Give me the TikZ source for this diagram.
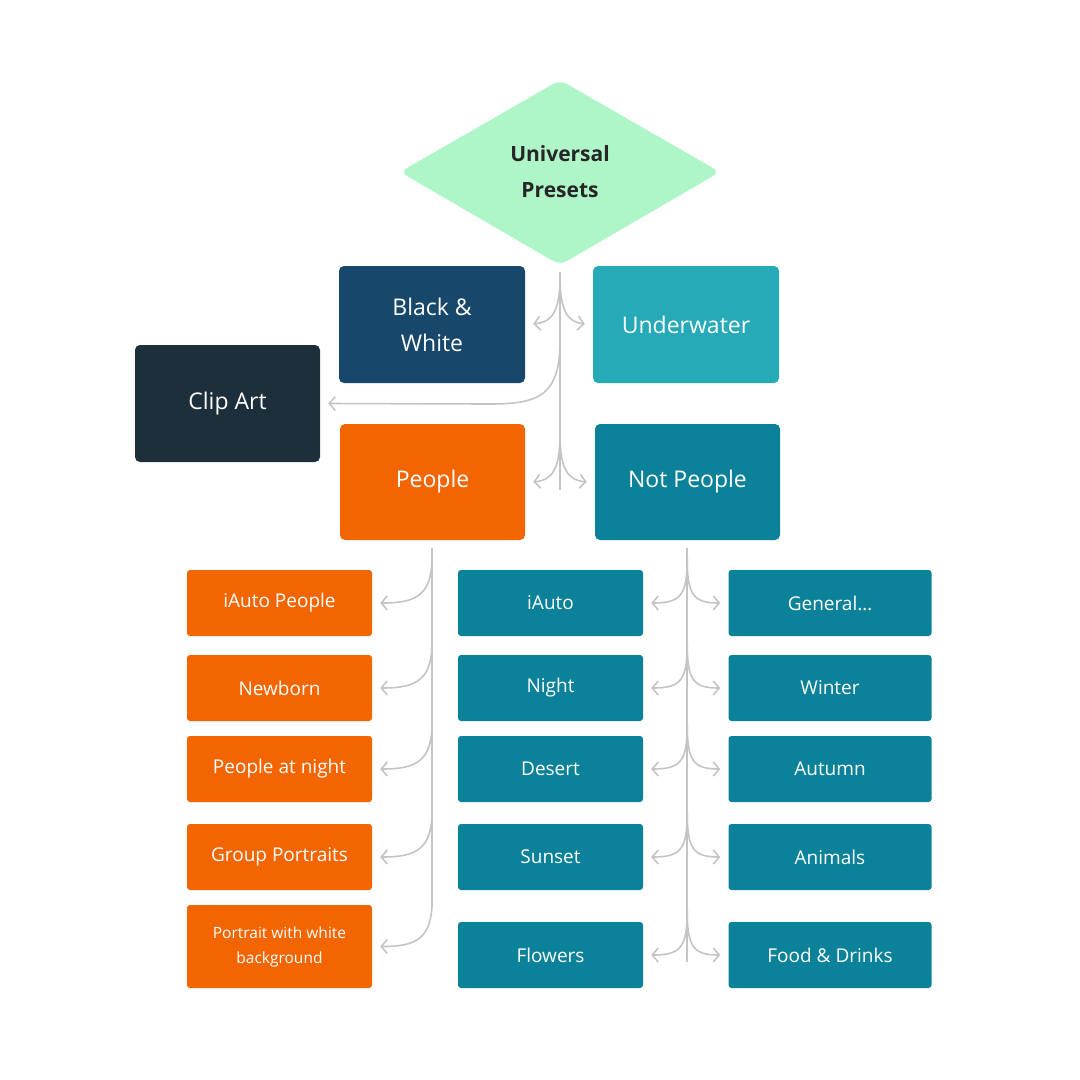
\documentclass[tikz,border=0pt]{standalone}
\usepackage{fontspec}
\setmainfont{Open Sans}
\usetikzlibrary{arrows.meta,shapes.geometric}
\definecolor{bw}{HTML}{17476A}
\definecolor{uw}{HTML}{27AAB8}
\definecolor{ca}{HTML}{1E2F3C}
\definecolor{pp}{HTML}{F26500}
\definecolor{np}{HTML}{0B8299}
\definecolor{dm}{HTML}{AEF5C8}
\definecolor{ln}{HTML}{C4C4C4}
\begin{document}
\begin{tikzpicture}[x=1pt,y=-1pt,
 box/.style={rounded corners=5pt,text=white,align=center,inner sep=0pt,font=\fontsize{23}{36}\selectfont},
 sm/.style={rounded corners=3pt,text=white,align=center,inner sep=0pt,minimum height=66pt,font=\fontsize{19}{21}\selectfont},
 conn/.style={draw=ln,line width=1.6pt,-{Straight Barb[length=6pt,width=14pt]}},
 trunk/.style={draw=ln,line width=1.6pt}]
\useasboundingbox (0,0) rectangle (1080,1080);
\fill[dm,rounded corners=8pt] (400,172)--(560,80)--(720,172)--(560,265)--cycle;
\node[font=\bfseries\fontsize{21}{36}\selectfont,text=black!85,align=center] (up) at (560,172) {Universal\\Presets};
\node[box,fill=bw,minimum width=186pt,minimum height=117pt] (bw) at (432,324.5) {Black \&\\White};
\node[box,fill=uw,minimum width=186pt,minimum height=117pt] (uw) at (686,324.5) {Underwater};
\node[box,fill=ca,minimum width=185pt,minimum height=117pt] (ca) at (227.5,403.5) {Clip Art};
\node[box,fill=pp,minimum width=185pt,minimum height=116pt] (pe) at (432.5,482) {People};
\node[box,fill=np,minimum width=185pt,minimum height=116pt] (np) at (687.5,482) {Not People};
\foreach \n/\y/\t in {p1/603/iAuto People,p2/688/Newborn,p3/769/People at night,p4/857/Group Portraits}
 \node[sm,fill=pp,minimum width=185pt] (\n) at (279.5,\y) {\t};
\node[sm,fill=pp,minimum width=185pt,minimum height=83pt,font=\fontsize{15.5}{25}\selectfont] (p5) at (279.5,946.5) {Portrait with white\\background};
\foreach \n/\y/\t in {m1/603/iAuto,m2/688/Night,m3/769/Desert,m4/857/Sunset,m5/955/Flowers}
 \node[sm,fill=np,minimum width=185pt] (\n) at (550.5,\y) {\t};
\node[sm,fill=np,minimum width=203pt] (r1) at (830,603) {General\ldots};
\foreach \n/\y/\t in {r2/688/Winter,r3/769/Autumn,r4/857/Animals,r5/955/Food \& Drinks}
 \node[sm,fill=np,minimum width=203pt] (\n) at (830,\y) {\t};
\coordinate (t0) at (560,272);
\coordinate (t1) at (560,490);
\draw[trunk] (t0)--(t1);
\foreach \y/\a/\b in {324/bw/uw,482/pe/np}{
 \draw[conn] (560,\y-48) .. controls (560,\y-12) and (552,\y-2) .. ([xshift=8pt]\a.east |- 0,\y);
 \draw[conn] (560,\y-48) .. controls (560,\y-12) and (568,\y-2) .. ([xshift=-8pt]\b.west |- 0,\y);
}
\draw[conn] (560,340) .. controls (560,395) and (540,404) .. (490,404) -- ([xshift=8pt]ca.east);
\draw[trunk] (432,548)--(432,905);
\foreach \n in {p1,p2,p3,p4,p5}{
 \path (\n.east) coordinate (e);
 \draw[conn] ([xshift=60pt,yshift=48pt]e) .. controls ([xshift=60pt,yshift=8pt]e) and ([xshift=45pt]e) .. ([xshift=8pt]e);
}
\draw[trunk] (687,548)--(687,962);
\foreach \a/\b in {m1/r1,m2/r2,m3/r3,m4/r4,m5/r5}{
 \path (\a.east) coordinate (e);
 \draw[conn] ([xshift=44pt,yshift=45pt]e) .. controls ([xshift=44pt,yshift=8pt]e) and ([xshift=38pt]e) .. ([xshift=8pt]e);
 \draw[conn] ([xshift=44pt,yshift=45pt]e) .. controls ([xshift=44pt,yshift=8pt]e) and ([xshift=50pt]e) .. ([xshift=-8pt]\b.west);
}
\end{tikzpicture}
\end{document}
